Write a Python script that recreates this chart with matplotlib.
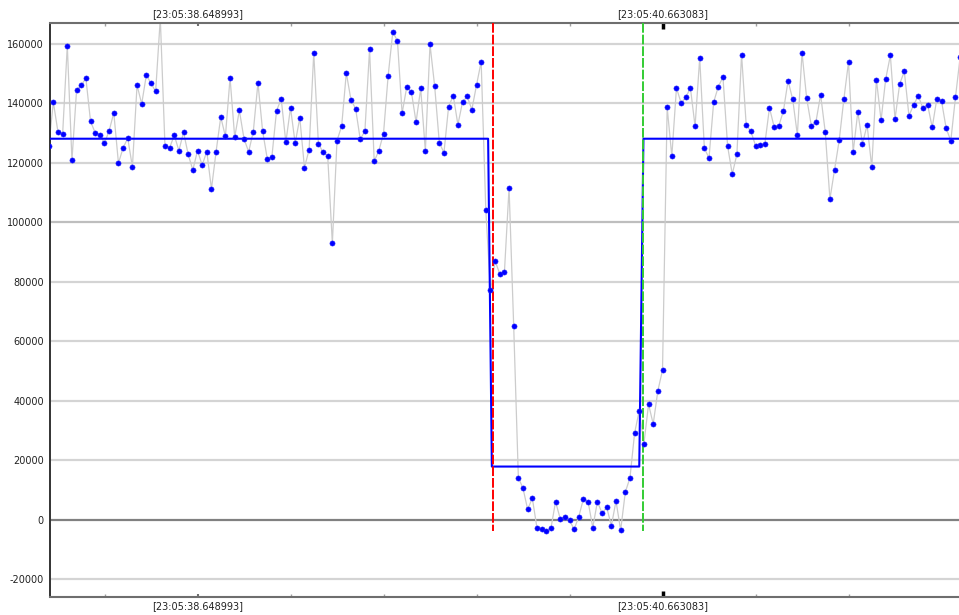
import numpy as np
import matplotlib
matplotlib.use("Agg")
from matplotlib import pyplot as plt

values = [
	125400, 140300, 130200, 129700, 159300, 120800, 144400, 146000, 148300, 133800,
	130000, 129300, 126500, 130700, 136700, 119800, 124900, 128200, 118500, 146000,
	139700, 149400, 146600, 143900, 168500, 125700, 124900, 129200, 124000, 130200,
	122700, 117500, 124000, 119100, 123700, 111100, 123700, 135300, 128800, 148400,
	128500, 137500, 128000, 123600, 130400, 146800, 130600, 121300,
	122000, 137400, 141400, 126800, 138400, 126500, 135000, 118300, 124300, 156900,
	126300, 123500, 122100, 92800, 127400, 132200, 150100, 141100, 138100, 127800,
	130600, 158000, 120400, 124000, 129700, 149200, 163900, 160900, 136500, 145400,
	143700, 133600, 144900, 123800, 159700, 145700, 126700, 123300, 138800, 142500,
	132700, 140400, 142200, 137800, 146000, 153900, 104000,
	77000, 86900, 82600, 83100, 111500, 64900,
	14100, 10500, 3400, 7200, -2800, -3100, -3700, -3000, 6000, 300,
	900, -300, -3300, 1000, 7000, 6000, -2700, 6000, 2100, 4100,
	-2100, 6200, -3600, 9200, 14000, 29100, 36600, 25500, 38700, 32100, 43300,
	50200,
	138600, 122100, 145100, 140000, 141900, 145100, 132200, 155100, 124800, 121500,
	140300, 145500, 148700, 125500, 116100, 122800, 156300, 132600, 130500, 125700,
	125800, 126200, 138400, 132000, 132300, 137300, 147500, 141200, 129300,
	156900, 141600, 132400, 133700, 142800, 130200, 107700, 117600, 127500, 141300,
	153800, 123500, 137000, 126300, 132600, 118400, 147900, 134200, 148100, 156000,
	134600, 146400, 150600, 135700, 139400, 142400, 138300, 139500, 131800, 141500,
	140700, 131500, 127300, 141900, 155400,
]

# time base, seconds after 23:05:00
t0 = 38.00247
dt = 0.0201409
times = t0 + dt * np.arange(len(values))

# fitted step level (sample index, value)
step_idx = [0, 94.5, 95.3, 127.0, 127.9, 196]
step_val = [128000, 128000, 17800, 17800, 128000, 128000]
step_t = t0 + dt * np.array(step_idx)

# event markers (sample index)
start_idx = 95.5
end_idx = 127.9

labelled_ticks = [38.648993, 40.663083]
minor_step = 0.402818

fig = plt.figure(figsize=(9.59, 6.15), dpi=100)
ax = fig.add_axes([50 / 959, 18 / 615, 909 / 959, 574 / 615])

ax.set_xlim(t0 + dt * 0.28, t0 + dt * 195.76)
ax.set_ylim(-26050, 166900)

# horizontal grid
for g in range(-20000, 160001, 20000):
	if g == 0:
		ax.axhline(g, color="#808080", lw=1.6, zorder=1)
	elif g == 100000:
		ax.axhline(g, color="#bebebe", lw=1.6, zorder=1)
	else:
		ax.axhline(g, color="#d4d4d4", lw=1.6, zorder=1)

ax.plot(times, values, color="#cccccc", lw=0.9, zorder=2)
ax.plot(step_t, step_val, color="#0000ff", lw=1.5, zorder=3)

ax.plot([t0 + dt * start_idx] * 2, [167000, -3900], color="#ff0000", lw=1.4,
	linestyle=(0, (5, 1)), zorder=4)
ax.plot([t0 + dt * end_idx] * 2, [167000, -3900], color="#33cc33", lw=1.4,
	linestyle=(0, (5, 1)), zorder=4)

ax.plot(times, values, linestyle="none", marker="o", markersize=3.7,
	markerfacecolor="#0000ff", markeredgecolor="#2020ff", markeredgewidth=0.4,
	zorder=5, clip_on=True)

# axes frame
for side in ["top", "bottom"]:
	ax.spines[side].set_color("#6e6e6e")
	ax.spines[side].set_linewidth(1.5)
ax.spines["left"].set_color("#333333")
ax.spines["left"].set_linewidth(1.4)
ax.spines["right"].set_visible(False)

ax.set_yticks(range(-20000, 160001, 20000))
ax.set_yticklabels([str(v) for v in range(-20000, 160001, 20000)])
ax.tick_params(axis="y", length=0, pad=4.5, labelsize=7, labelcolor="#222222")

ax.set_xticks(labelled_ticks)
ax.set_xticklabels(["[23:05:%09.6f]" % v for v in labelled_ticks])
minors = [labelled_ticks[0] + k * minor_step for k in range(-1, 8)]
ax.set_xticks(minors, minor=True)
ax.tick_params(axis="x", which="both", direction="in", top=True, bottom=True,
	labeltop=True, labelbottom=True, labelsize=7, labelcolor="#222222", pad=3)
ax.tick_params(axis="x", which="minor", length=2, width=1, color="#a0a0a0")
ax.tick_params(axis="x", which="major", length=2, width=1.5, color="#707070")

tk = ax.xaxis.get_major_ticks()[1]
for ln in (tk.tick1line, tk.tick2line):
	ln.set_markeredgecolor("black")
	ln.set_markersize(4)
	ln.set_markeredgewidth(2.5)

fig.savefig("out.png", dpi=100)
